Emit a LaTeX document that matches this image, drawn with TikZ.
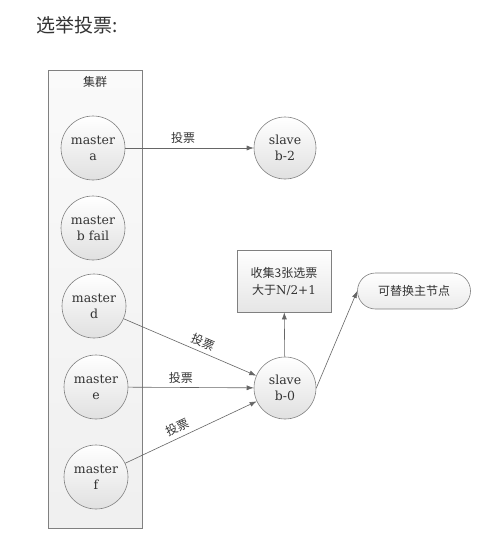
\documentclass[tikz,border=0pt]{standalone}
\usepackage{fontspec}
\setmainfont{DejaVu Serif}
\newfontfamily\cjk{Noto Sans CJK SC}
\usetikzlibrary{arrows.meta}
\definecolor{ink}{HTML}{333333}
\definecolor{edge}{HTML}{666666}
\definecolor{rim}{HTML}{808080}
\tikzset{
  x=1pt, y=-1pt,
  every node/.style={text=ink},
  peer/.style={circle, draw=rim, line width=0.6pt, minimum size=64pt, inner sep=0pt,
    top color=white, bottom color=black!12, align=center, font=\fontsize{12.5}{16}\selectfont},
  notebox/.style={rectangle, draw=rim, line width=0.6pt, minimum width=94pt, minimum height=62pt,
    top color=white, bottom color=black!10, align=center, font=\fontsize{12}{17}\selectfont},
  pill/.style={rectangle, rounded corners=18pt, draw=rim, line width=0.6pt, minimum width=113pt,
    minimum height=36pt, top color=white, bottom color=black!8, font=\cjk\fontsize{12}{14}\selectfont},
  vote/.style={draw=edge, line width=0.6pt, -{Latex[length=7pt,width=5pt]}},
  votelabel/.style={font=\cjk\fontsize{12}{14}\selectfont, inner sep=4pt},
}
\begin{document}
\begin{tikzpicture}
\useasboundingbox (0,0) rectangle (493,541);
\fill[white] (0,0) rectangle (493,541);

\node[font=\cjk\fontsize{19}{22}\selectfont, anchor=west, text=black!80] (title) at (33,25) {选举投票:};

% cluster frame
\node[draw=rim, line width=0.6pt, top color=black!2, bottom color=black!6,
  minimum width=94pt, minimum height=458pt, inner sep=0pt] (cluster) at (95,299) {};
\node[font=\cjk\fontsize{12}{14}\selectfont] (clusterlabel) at (95,82) {集群};

% masters
\node[peer] (ma) at (93,148) {master\\a};
\node[peer] (mb) at (93,228) {master\\b fail};
\node[peer] (md) at (94,306) {master\\d};
\node[peer] (me) at (96,387) {master\\e};
\node[peer] (mf) at (96,477) {master\\f};

% slaves
\node[peer, minimum size=62pt] (s2) at (285,148) {slave\\b-2};
\node[peer, minimum size=62pt] (s0) at (285,388) {slave\\b-0};

\node[notebox] (count) at (284,281) {{\cjk 收集3张选票}\\{\cjk 大于}N/2+1};
\node[pill] (promote) at (414,291) {可替换主节点};

% votes
\draw[vote] (ma) -- node[votelabel, above, pos=0.45] {投票} (s2);
\draw[vote] (md) -- node[votelabel, above, sloped, pos=0.57] {投票} (s0);
\draw[vote] (me) -- node[votelabel, above, pos=0.42] {投票} (s0);
\draw[vote] (mf) -- node[votelabel, above, sloped, pos=0.43] {投票} (s0);

\draw[vote] (s0) -- (count);
\draw[vote] (s0.east) -- (promote.west);
\end{tikzpicture}
\end{document}
